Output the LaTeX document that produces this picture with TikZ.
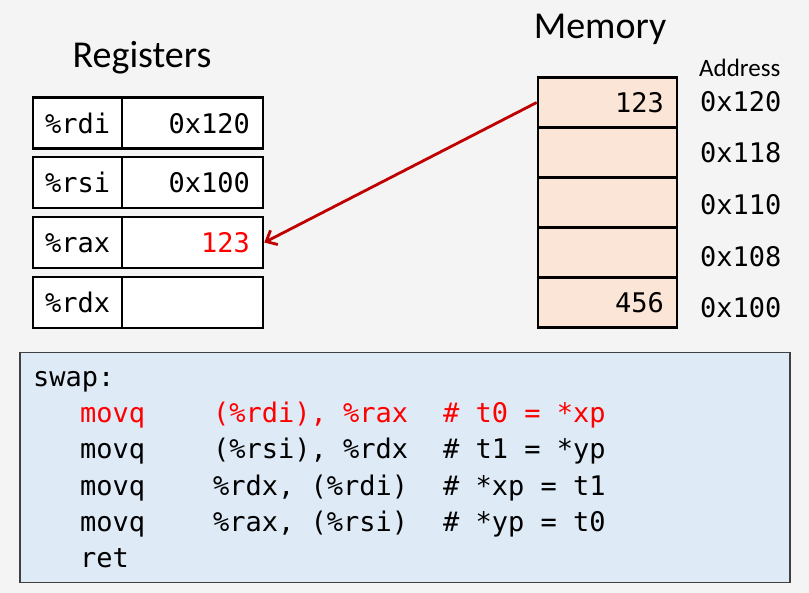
\documentclass[tikz,border=0pt]{standalone}
\usepackage{fontspec}
\setmainfont{Carlito}
\newfontfamily\codefont{DejaVu Sans Mono}
\usetikzlibrary{arrows.meta}
\definecolor{bgc}{HTML}{F4F4F4}
\definecolor{peach}{HTML}{FBE5D6}
\definecolor{codeblue}{HTML}{DEEAF6}
\definecolor{arrowred}{HTML}{C00000}
\definecolor{hilite}{HTML}{FF0000}
\tikzset{
  cell/.style={draw=black, line width=2.6pt, fill=white, inner sep=0pt, minimum height=51pt},
  namecell/.style={cell, minimum width=89pt},
  valcell/.style={cell, minimum width=141pt},
  memcell/.style={draw=black, line width=2.6pt, fill=peach, inner sep=0pt, minimum width=139pt, minimum height=50pt},
  mono/.style={font=\codefont\fontsize{27}{32}\selectfont, inner sep=0pt, anchor=base west},
  monor/.style={font=\codefont\fontsize{27}{32}\selectfont, inner sep=0pt, anchor=base east},
  title/.style={font=\fontsize{38}{44}\selectfont, inner sep=0pt, anchor=base},
  codebox/.style={draw=black!75, line width=1.5pt, fill=codeblue, inner sep=0pt, minimum width=770pt, minimum height=230pt},
  loadarrow/.style={draw=arrowred, line width=2.8pt, -{Straight Barb[length=9pt,width=16pt,line width=2.8pt]}}
}
\begin{document}
\begin{tikzpicture}[x=1pt,y=-1pt]
\useasboundingbox[fill=bgc] (0,0) rectangle (809,593);

% titles
\node[title] (regtitle) at (142,68) {Registers};
\node[title] (memtitle) at (600,39) {Memory};
\node[font=\fontsize{25}{30}\selectfont, inner sep=0pt, anchor=base west] (addrtitle) at (699,77) {Address};

% registers
\node[namecell] (rdin) at (77.5,123) {};
\node[valcell] (rdiv) at (192.5,123) {};
\node[namecell] (rsin) at (77.5,182.5) {};
\node[valcell] (rsiv) at (192.5,182.5) {};
\node[namecell] (raxn) at (77.5,242.5) {};
\node[valcell] (raxv) at (192.5,242.5) {};
\node[namecell] (rdxn) at (77.5,302.5) {};
\node[valcell] (rdxv) at (192.5,302.5) {};

\node[mono] (rdit) at (45,134) {\%rdi};
\node[mono] (rsit) at (45,193) {\%rsi};
\node[mono] (raxt) at (45,253) {\%rax};
\node[mono] (rdxt) at (45,313) {\%rdx};
\node[monor] (rdival) at (250,134) {0x120};
\node[monor] (rsival) at (250,193) {0x100};
\node[monor, text=hilite] (raxval) at (250,253) {123};

% memory
\node[memcell] (m0) at (607.5,102.5) {};
\node[memcell] (m1) at (607.5,152.5) {};
\node[memcell] (m2) at (607.5,202.5) {};
\node[memcell] (m3) at (607.5,252.5) {};
\node[memcell] (m4) at (607.5,302.5) {};
\node[monor] (m0val) at (664,113) {123};
\node[monor] (m4val) at (664,313) {456};

\node[mono] (a0) at (700,112) {0x120};
\node[mono] (a1) at (700,163) {0x118};
\node[mono] (a2) at (700,215) {0x110};
\node[mono] (a3) at (700,267) {0x108};
\node[mono] (a4) at (700,318) {0x100};

% arrow
\draw[loadarrow] (m0.west) -- (raxv.east);

% code
\node[codebox] (cb) at (405,467.5) {};
\node[mono] (c0) at (33,387) {swap:};
\node[mono, text=hilite] (c1a) at (80,423) {movq};
\node[mono, text=hilite] (c1b) at (213,423) {(\%rdi), \%rax};
\node[mono, text=hilite] (c1c) at (443,423) {\# t0 = *xp};
\node[mono] (c2a) at (80,459) {movq};
\node[mono] (c2b) at (213,459) {(\%rsi), \%rdx};
\node[mono] (c2c) at (443,459) {\# t1 = *yp};
\node[mono] (c3a) at (80,495.5) {movq};
\node[mono] (c3b) at (213,495.5) {\%rdx, (\%rdi)};
\node[mono] (c3c) at (443,495.5) {\# *xp = t1};
\node[mono] (c4a) at (80,532) {movq};
\node[mono] (c4b) at (213,532) {\%rax, (\%rsi)};
\node[mono] (c4c) at (443,532) {\# *yp = t0};
\node[mono] (c5a) at (80,567) {ret};
\end{tikzpicture}
\end{document}
